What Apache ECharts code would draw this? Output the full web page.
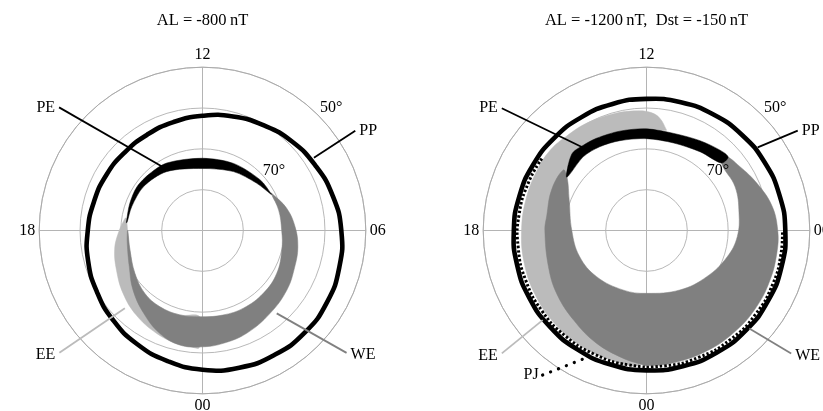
<!DOCTYPE html>
<html><head><meta charset="utf-8">
<script src="https://cdn.jsdelivr.net/npm/echarts@6/dist/echarts.min.js"></script>
<style>html,body{margin:0;padding:0;background:#fff}#c{width:823px;height:411px}</style>
</head><body><div id="c"></div>
<script>
// ---- data: points are [MLT hour, colatitude in degrees (90 - latitude)] ----
const titles = ['AL = -800\u2009nT', 'AL = -1200\u2009nT,  Dst = -150\u2009nT'];
const hourTickLabels = {0:'00', 6:'06', 12:'12', 18:'18'};
const latLabels = ['70°', '50°'];
const latLabelPos = [[8.65, 22.8], [8.91, 43.6]];

// Left panel (AL = -800 nT)
const L_PP = [[0,34.1],[1,34.8],[2,35.2],[3,35.4],[4,35.2],[5,34.7],[6,34.0],[7,33.0],[8,31.9],[9,30.9],[10,29.8],[11,28.9],[12,28.1],[13,27.5],[14,27.1],[15,27.0],[16,27.2],[17,27.5],[18,28.1],[19,29.0],[20,29.9],[21,31.0],[22,32.1],[23,33.1]];
const L_PE_outer = [[7.85,19.1],[8.75,18.8],[10.35,18.1],[12,17.7],[13.85,18.7],[14.85,19.0],[15.75,19.3],[16.65,19.0],[17.6,18.75]];
const L_PE_inner = [[7.85,19.0],[8.75,17.6],[10.15,16.3],[12,15.2],[14.1,16.9],[15.55,18.0],[16.75,18.3],[17.6,18.6]];
const L_WE_outer = [[7.9,19.2],[7.0,21.3],[6.15,22.7],[5.35,23.7],[4.55,24.3],[3.65,25.3],[2.6,26.2],[1.55,27.4],[0.7,28.1],[0,28.5],[23.25,28.6],[22.5,27.3],[21.65,24.9],[20.7,22.4],[19.75,20.0],[18.65,18.7],[18.0,18.4]];
const L_WE_inner = [[7.9,19.1],[7.0,19.3],[6.0,19.4],[5.1,20.0],[4.0,21.0],[2.95,21.4],[1.85,21.5],[0.9,21.3],[0,21.1],[23.0,21.4],[22.05,21.4],[21.15,20.9],[20.15,19.6],[19.0,18.4],[18.0,18.3]];
const L_EE_outer = [[17.4,19.2],[18.1,20.6],[18.8,22.0],[19.65,23.2],[20.55,24.8],[21.45,26.3],[22.4,27.6],[23.15,28.4],[23.6,28.6],[23.9,28.6]];
const L_EE_inner = [[17.4,18.9],[18.15,18.3],[19.0,18.4],[20.15,19.6],[21.15,20.9],[22.05,21.4],[23.0,21.4],[23.9,21.3]];
const L_leaders = {
  PE: [[15.29,46.3],[14.07,17.8]],
  PP: [[8.21,44.7],[8.21,32.6]],
  WE: [[3.31,46.3],[2.79,27.25]],
  EE: [[20.7,46.1],[21.0,26.9]]
};

// Right panel (AL = -1200 nT, Dst = -150 nT)
const R_PP = [[0,34.25],[1,34.4],[2,34.5],[3,34.5],[4,34.4],[5,34.25],[6,34.0],[7,33.7],[8,33.4],[9,33.1],[10,32.8],[11,32.5],[12,32.25],[13,32.1],[14,32.0],[15,32.0],[16,32.1],[17,32.25],[18,32.5],[19,32.8],[20,33.1],[21,33.4],[22,33.7],[23,34.0]];
const R_PJ = [[15.7,31.1],[16.5,31.2],[17.5,31.45],[18.5,31.7],[19.5,32.0],[20.5,32.3],[21.5,32.6],[22.5,32.9],[23.5,33.2],[0.5,33.45],[1.5,33.6],[2.5,33.7],[3.5,33.7],[4.5,33.6],[5.3,33.45],[6.0,33.3]];
const R_PE_outer = [[8.8,26.9],[9.15,26.7],[9.95,25.6],[10.95,24.7],[12,24.9],[13.0,25.2],[13.9,25.7],[14.45,26.0],[14.95,26.2]];
const R_PE_inner = [[8.8,24.7],[9.7,23.35],[10.85,22.45],[12,22.5],[13.1,22.95],[13.95,23.5],[14.7,23.8],[15.75,23.5]];
const R_WE_outer = [[8.9,26.5],[8.3,27.7],[7.55,29.4],[6.75,31.3],[6.0,32.15],[5.35,32.4],[4.55,32.6],[3.7,32.8],[2.8,32.9],[1.8,33.0],[0.75,33.1],[0,33.1],[23.8,32.7],[23.3,31.8],[22.4,30.2],[21.4,28.3],[20.35,26.9],[19.35,25.6],[18.0,24.9],[17.45,24.7],[16.45,25.3],[15.6,25.2]];
const R_WE_inner = [[8.8,24.7],[7.75,24.2],[6.7,23.05],[5.75,22.3],[4.8,20.8],[3.5,18.6],[1.95,16.7],[0,15.4],[22.6,15.65],[20.85,16.65],[19.4,17.6],[18.0,18.3],[16.55,20.4],[15.75,23.4]];
const R_EE_outer = [[11.25,25.1],[11.55,27.7],[11.85,28.9],[12.3,29.4],[13.05,29.7],[13.95,30.1],[14.7,30.3],[15.3,30.7],[16.0,30.6],[17.0,30.5],[18.0,30.6],[19.0,31.0],[20.0,31.5],[21.0,32.0],[22.0,32.5],[23.0,32.9],[23.8,33.1]];
const R_EE_inner = [[11.25,25.0],[12,24.8],[13,25.0],[13.9,25.5],[14.9,25.8],[15.6,24.5],[16.5,23.0],[18,22.0],[19.4,22.0],[20.8,23.0],[22.4,25.0],[23.3,28.0],[23.8,30.0]];
const R_leaders = {
  PE: [[15.32,46.4],[14.47,25.25]],
  PP: [[8.23,44.4],[8.45,34.0]],
  WE: [[3.31,46.5],[3.09,34.8]],
  EE: [[20.69,46.5],[20.72,33.6]],
  PJ: [[21.62,43.6],[22.24,35.2]]
};

// ---- styling / layout ----
const FONT = '"Liberation Serif", "Times New Roman", serif';
const DARK = '#808080', LIGHT = '#bbbbbb', GRID = '#a6a6a6';
const centers = [[202.5, 230.5], [646.5, 230.5]];
const R = 163.3;

function toRA(p) { return [p[1], p[0]]; }

function area(pi, outer, inner, color, z, sm) {
  return {
    type: 'custom', coordinateSystem: 'polar', polarIndex: pi, z: z, silent: true,
    data: outer.map(toRA),
    renderItem: function (params, api) {
      if (params.dataIndex !== 0) return null;
      const pts = outer.concat(inner.slice().reverse()).map(p => api.coord(toRA(p)));
      return { type: 'polygon', shape: { points: pts, smooth: sm },
               style: { fill: color, stroke: color, lineWidth: 0.5 } };
    }
  };
}
function ring(pi, pts0, z) {
  return {
    type: 'custom', coordinateSystem: 'polar', polarIndex: pi, z: z, silent: true,
    data: pts0.map(toRA),
    renderItem: function (params, api) {
      if (params.dataIndex !== 0) return null;
      const pts = pts0.map(p => api.coord(toRA(p)));
      return { type: 'polygon', shape: { points: pts, smooth: 0.5 },
               style: { fill: 'none', stroke: '#000', lineWidth: 4.6 } };
    }
  };
}
function polyline(pi, pts0, z, style) {
  return {
    type: 'custom', coordinateSystem: 'polar', polarIndex: pi, z: z, silent: true,
    data: pts0.map(toRA),
    renderItem: function (params, api) {
      if (params.dataIndex !== 0) return null;
      const pts = pts0.map(p => api.coord(toRA(p)));
      return { type: 'polyline', shape: { points: pts, smooth: pts.length > 2 ? 0.5 : 0 },
               style: Object.assign({ fill: 'none' }, style) };
    }
  };
}
// text placed at a polar data point; side: 'left' | 'right' | 'center'
function textAt(pi, pt, txt, side, dy) {
  return {
    type: 'custom', coordinateSystem: 'polar', polarIndex: pi, z: 7, silent: true,
    data: [toRA(pt)],
    renderItem: function (params, api) {
      const c = api.coord(toRA(pt));
      const dx = side === 'left' ? -4 : side === 'right' ? 4 : 0;
      return { type: 'text', x: c[0] + dx, y: c[1] + (dy || 0),
               style: { text: txt, fill: '#000', font: '16px ' + FONT,
                        align: side === 'left' ? 'right' : side === 'right' ? 'left' : 'center',
                        verticalAlign: 'middle' } };
    }
  };
}
const leaderStyle = {
  PE: { stroke: '#000', lineWidth: 1.8 },
  PP: { stroke: '#000', lineWidth: 1.8 },
  WE: { stroke: DARK, lineWidth: 1.8 },
  EE: { stroke: LIGHT, lineWidth: 1.8 },
  PJ: { stroke: '#000', lineWidth: 3.2, lineDash: [0.1, 8.4], lineCap: 'round' }
};
const labelSide = { PE: 'left', PP: 'right', WE: 'right', EE: 'left', PJ: 'left' };

function leaders(pi, set) {
  const out = [];
  Object.keys(set).forEach(k => {
    out.push(polyline(pi, set[k], 6, leaderStyle[k]));
    out.push(textAt(pi, set[k][0], k, labelSide[k], (k === 'WE' || k === 'EE') ? 2 : 0));
  });
  return out;
}
function latText(pi) {
  return latLabels.map((t, i) => textAt(pi, latLabelPos[i], t, 'center', 0));
}

const polar = centers.map(c => ({ center: c, radius: R }));
const angleAxis = centers.map((c, i) => ({
  polarIndex: i, type: 'value', min: 0, max: 24, interval: 6,
  startAngle: 270, clockwise: false,
  axisLine: { show: true, lineStyle: { color: GRID, width: 0.8 } },
  axisTick: { show: false },
  axisLabel: { show: true, margin: 4, color: '#000', fontFamily: FONT, fontSize: 16,
               formatter: v => (hourTickLabels[v] !== undefined ? hourTickLabels[v] : '') },
  splitLine: { show: true, lineStyle: { color: '#b4b4b4', width: 1 } }
}));
const radiusAxis = centers.map((c, i) => ({
  polarIndex: i, type: 'value', min: 0, max: 40, interval: 10,
  axisLine: { show: false }, axisTick: { show: false }, axisLabel: { show: false },
  splitLine: { show: true, lineStyle: { color: GRID, width: 0.8 } }
}));

const series = [
  area(0, L_EE_outer, L_EE_inner, LIGHT, 2, 0.4),
  area(0, L_WE_outer, L_WE_inner, DARK, 3, 0.4),
  area(0, L_PE_outer, L_PE_inner, '#000', 4, 0.3),
  ring(0, L_PP, 5),
  ...leaders(0, L_leaders),
  ...latText(0),
  area(1, R_EE_outer, R_EE_inner, LIGHT, 2, 0.4),
  area(1, R_WE_outer, R_WE_inner, DARK, 3, 0.4),
  area(1, R_PE_outer, R_PE_inner, '#000', 4, 0.3),
  ring(1, R_PP, 5),
  polyline(1, R_PJ, 5, { stroke: '#000', lineWidth: 3, lineDash: [2.4, 2.0] }),
  ...leaders(1, R_leaders),
  ...latText(1)
];

const chart = echarts.init(document.getElementById('c'));
chart.setOption({
  animation: false,
  backgroundColor: '#fff',
  polar: polar,
  angleAxis: angleAxis,
  radiusAxis: radiusAxis,
  graphic: titles.map((t, i) => ({
    type: 'text', x: centers[i][0], y: 21,
    style: { text: t, textAlign: 'center', textVerticalAlign: 'middle',
             font: '16.5px ' + FONT, fill: '#000' }
  })),
  series: series
});
</script></body></html>
